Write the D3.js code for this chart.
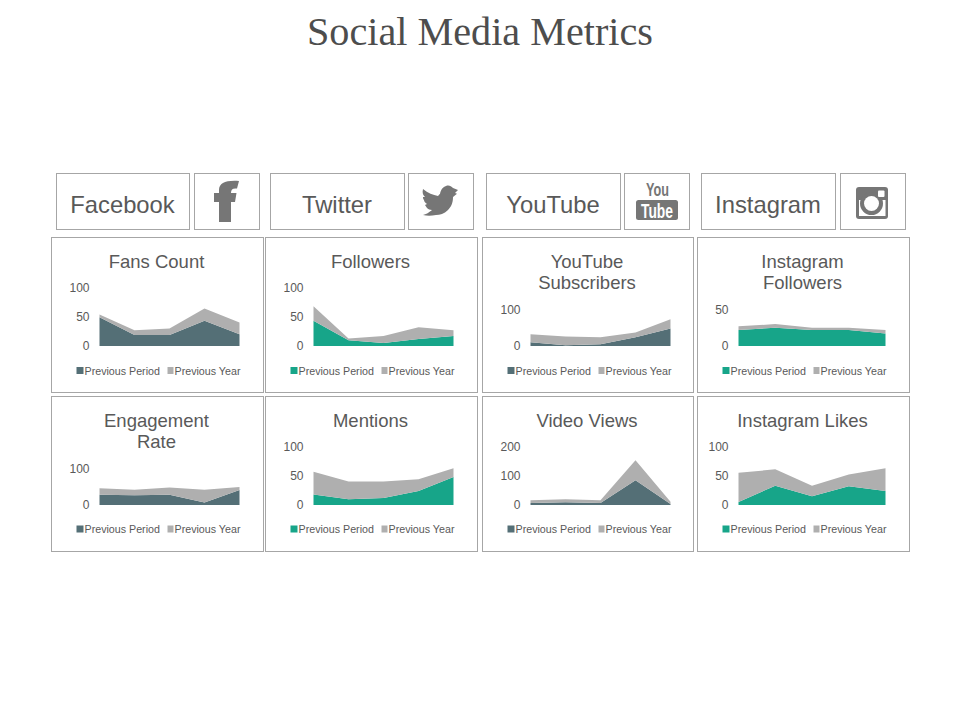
<!DOCTYPE html>
<html>
<head>
<meta charset="utf-8">
<title>Social Media Metrics</title>
<script src="https://cdnjs.cloudflare.com/ajax/libs/d3/7.8.5/d3.min.js"></script>
<style>
html, body { margin: 0; padding: 0; background: #fff; }
text { font-family: "Liberation Sans", Arial, sans-serif; }
</style>
</head>
<body>
<svg id="chart" width="960" height="720"></svg>
<script>
var categories = [1, 2, 3, 4, 5];
var seriesNames = ["Previous Period", "Previous Year"];

var fansPeriod = [49, 19, 19, 43, 20];
var fansYear = [5, 8, 11, 21, 20];
var followersPeriod = [43, 10, 5, 12, 17];
var followersYear = [25, 3, 12, 20, 10];
var subscribersPeriod = [10, 2, 5, 24, 48];
var subscribersYear = [22, 24, 19, 13, 25];
var igFollowersPeriod = [22, 25, 22, 22, 17];
var igFollowersYear = [5, 5, 3, 3, 5];
var engagementPeriod = [28, 27, 28, 7, 41];
var engagementYear = [18, 15, 20, 35, 8];
var mentionsPeriod = [18, 10, 12, 24, 48];
var mentionsYear = [39, 30, 28, 20, 15];
var viewsPeriod = [7, 9, 7, 85, 3];
var viewsYear = [9, 11, 9, 68, 8];
var likesPeriod = [5, 33, 15, 32, 24];
var likesYear = [50, 28, 18, 20, 39];

var dark = "#546f76", teal = "#17a589", grey = "#afafaf", ink = "#595959", line = "#a6a6a6", icon = "#767676";

// panels, left to right and top to bottom
var panels = [
  { title: ["Fans Count"], a: fansPeriod, b: fansYear, ticks: [0, 50, 100], col: 0, row: 0, color: dark },
  { title: ["Followers"], a: followersPeriod, b: followersYear, ticks: [0, 50, 100], col: 1, row: 0, color: teal },
  { title: ["YouTube", "Subscribers"], a: subscribersPeriod, b: subscribersYear, ticks: [0, 100], col: 2, row: 0, color: dark },
  { title: ["Instagram", "Followers"], a: igFollowersPeriod, b: igFollowersYear, ticks: [0, 50], col: 3, row: 0, color: teal },
  { title: ["Engagement", "Rate"], a: engagementPeriod, b: engagementYear, ticks: [0, 100], col: 0, row: 1, color: dark },
  { title: ["Mentions"], a: mentionsPeriod, b: mentionsYear, ticks: [0, 50, 100], col: 1, row: 1, color: teal },
  { title: ["Video Views"], a: viewsPeriod, b: viewsYear, ticks: [0, 100, 200], col: 2, row: 1, color: dark },
  { title: ["Instagram Likes"], a: likesPeriod, b: likesYear, ticks: [0, 50, 100], col: 3, row: 1, color: teal }
];

var colX = [51.5, 265.5, 482.5, 697.5];
var colW = [212, 212, 211, 212];
var rowY = [237.5, 396.5];
var rowH = 155;

var svg = d3.select("#chart");

svg.append("text")
  .attr("x", 480).attr("y", 45)
  .attr("text-anchor", "middle")
  .style("font-family", "'Liberation Serif', serif")
  .style("font-size", "40.2px")
  .attr("fill", "#4d4d4d")
  .text("Social Media Metrics");

// header boxes
var labelBoxes = [
  { name: "Facebook", x: 56.5, w: 133 },
  { name: "Twitter", x: 270.5, w: 134 },
  { name: "YouTube", x: 486.5, w: 134 },
  { name: "Instagram", x: 701.5, w: 134 }
];
var iconBoxes = [194.5, 408.5, 624.5, 840.5];

labelBoxes.forEach(function(d) {
  svg.append("rect").attr("x", d.x).attr("y", 173.5).attr("width", d.w).attr("height", 56)
    .attr("fill", "none").attr("stroke", line);
  svg.append("text").attr("x", d.x + d.w / 2 - 0.5).attr("y", 213)
    .attr("text-anchor", "middle").attr("fill", ink)
    .style("font-size", "23.8px").text(d.name);
});
iconBoxes.forEach(function(x) {
  svg.append("rect").attr("x", x).attr("y", 173.5).attr("width", 65).attr("height", 56)
    .attr("fill", "none").attr("stroke", line);
});

// facebook
svg.append("path").attr("fill", icon)
  .attr("d", "M219 222V202H214V193H219V190C219 183 226 180 239 181L237 188.5C233 188 231 189 231 193H236.5L235 202H231V222Z");
// twitter
svg.append("path").attr("fill", icon)
  .attr("d", "M423 189C428 193 433 195 438 196L440 193.7C441 189 443 187 446 186C449 185 451 186 453 188L458 190L455 193L457 193.7L453 197C453 203 451 207 448 210C444 214 440 215 436 215C431 216 427 216 423 215C425 214 427 214 428 213C429 212 431 211 432 210C430 210 428 209 427 208L425 205L427 204C425 203 424 201 424 200C423 199 423 198 423 197L425 197C423 195 422 193 423 189Z");
// youtube
svg.append("text").attr("x", 657.5).attr("y", 196).attr("text-anchor", "middle")
  .attr("fill", icon).style("font-size", "19px").style("font-weight", "bold")
  .style("font-family", "'Liberation Sans Narrow', 'Liberation Sans', sans-serif")
  .attr("textLength", 23).attr("lengthAdjust", "spacingAndGlyphs").text("You");
svg.append("rect").attr("x", 636).attr("y", 200).attr("width", 42).attr("height", 20).attr("rx", 2.5).attr("fill", icon);
svg.append("text").attr("x", 657).attr("y", 217.5).attr("text-anchor", "middle")
  .attr("fill", "#fff").style("font-size", "21px").style("font-weight", "bold")
  .style("font-family", "'Liberation Sans Narrow', 'Liberation Sans', sans-serif")
  .attr("textLength", 32).attr("lengthAdjust", "spacingAndGlyphs").text("Tube");
// instagram
svg.append("rect").attr("x", 856).attr("y", 187).attr("width", 32).attr("height", 32).attr("rx", 3).attr("fill", icon);
svg.append("rect").attr("x", 859).attr("y", 200).attr("width", 26.5).attr("height", 16).attr("fill", "#fff");
svg.append("circle").attr("cx", 871.5).attr("cy", 203.5).attr("r", 11.5).attr("fill", icon);
svg.append("circle").attr("cx", 871.5).attr("cy", 203.5).attr("r", 7.5).attr("fill", "#fff");
svg.append("rect").attr("x", 878).attr("y", 190.5).attr("width", 6.5).attr("height", 6.5).attr("rx", 1).attr("fill", "#fff");

panels.forEach(function(p) {
  var px = colX[p.col], py = rowY[p.row], pw = colW[p.col];
  var g = svg.append("g");

  g.append("rect").attr("x", px).attr("y", py).attr("width", pw).attr("height", rowH)
    .attr("fill", "none").attr("stroke", line);

  p.title.forEach(function(t, i) {
    g.append("text").attr("x", px + pw / 2 - 1).attr("y", py + 30 + i * 21)
      .attr("text-anchor", "middle").attr("fill", ink)
      .style("font-size", "18.5px").text(t);
  });

  // plot area: shorter when the axis only has two ticks
  var left = p.col == 3 ? px + 41 : px + 48;
  var right = px + 188;
  var bottom = py + 108.5;
  var top = p.ticks.length == 3 ? py + 50 : py + 72;

  var x = d3.scalePoint().domain(categories).range([left, right]);
  var y = d3.scaleLinear().domain([0, p.ticks[p.ticks.length - 1]]).range([bottom, top]);

  var rows = categories.map(function(c, i) { return { c: c, a: p.a[i], b: p.b[i] }; });
  var stacked = d3.stack().keys(["a", "b"])(rows);
  var area = d3.area()
    .x(function(d) { return x(d.data.c); })
    .y0(function(d) { return y(d[0]); })
    .y1(function(d) { return y(d[1]); });

  g.selectAll("path.area").data(stacked).enter().append("path")
    .attr("class", "area")
    .attr("d", area)
    .attr("fill", function(d, i) { return i == 0 ? p.color : grey; });

  var axis = d3.axisLeft(y).tickValues(p.ticks).tickSize(0).tickPadding(0);
  var ag = g.append("g").attr("transform", "translate(" + (left - 10) + ",0)").call(axis);
  ag.select(".domain").remove();
  ag.selectAll("text").attr("fill", ink).style("font-size", "12px");

  // legend
  var ly = p.row == 0 ? py + 133 : py + 132.5;
  var lx = px + 25;
  g.append("rect").attr("x", lx).attr("y", ly - 3.5).attr("width", 7).attr("height", 7).attr("fill", p.color);
  g.append("text").attr("x", lx + 8).attr("y", ly + 4).attr("fill", ink)
    .style("font-size", "10.7px").text(seriesNames[0]);
  g.append("rect").attr("x", lx + 91).attr("y", ly - 3.5).attr("width", 6).attr("height", 7).attr("fill", grey);
  g.append("text").attr("x", lx + 98).attr("y", ly + 4).attr("fill", ink)
    .style("font-size", "10.7px").text(seriesNames[1]);
});
</script>
</body>
</html>
